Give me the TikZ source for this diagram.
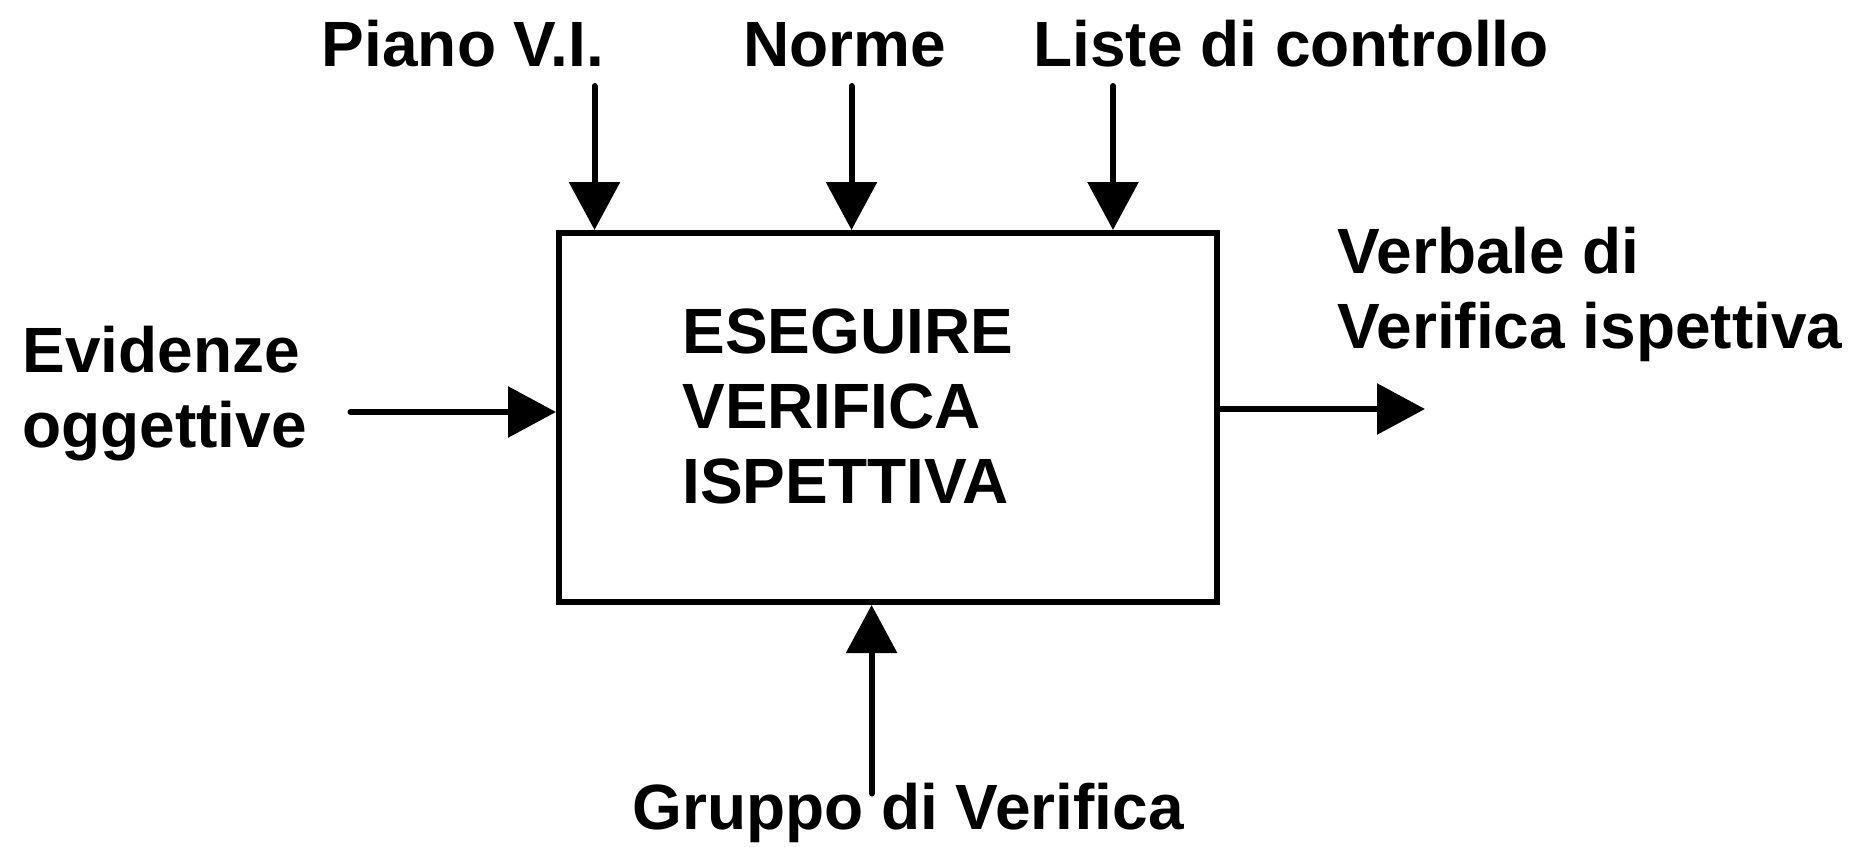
\documentclass[tikz,border=0pt]{standalone}
\usepackage{fontspec}
\setmainfont{Liberation Sans}
\usetikzlibrary{arrows.meta,positioning}
\tikzset{every picture/.style={/utils/exec={\bfseries}}}

\begin{document}
\begin{tikzpicture}[
        x=0.5pt, y=-0.5pt,
        every node/.style={font=\fontsize{32}{37.5}\selectfont\bfseries, inner sep=0pt},
        arr/.style = {line width=3pt, line cap=round,
            -{Triangle[length=24pt,width=25pt]}},
        box/.style = {draw, line width=3pt,
            minimum width=329pt, minimum height=184.5pt},
        lbl/.style = {align=left, anchor=base west},
    ]
    \useasboundingbox (0,0) rectangle (1857,846);
    % activity box
    \node[box] (proc) at (888,417.5) {};
    \node[lbl] (azione) at (682,503) {ESEGUIRE\\VERIFICA\\ISPETTIVA};
    % controls
    \foreach \x/\t/\y [count=\i] in {463/Piano V.I./594.5, 844.5/Norme/851.5, 1291/Liste di controllo/1113}
    {
        \node[anchor=base] (ctrl\i) at (\x,66) {\t};
        \coordinate (c\i) at (\y,86);
        \draw[arr] (c\i) -- (c\i |- proc.north);
    }
    % input
    \node[lbl] (ingr) at (22,447) {Evidenze\\oggettive};
    \coordinate (ev) at (350.5,412);
    \draw[arr] (ev) -- (ev -| proc.west);
    % output
    \node[lbl] (usc) at (1337,348.6) {Verbale di\\Verifica ispettiva};
    \coordinate (out) at (1425,409);
    \draw[arr] (out -| proc.east) -- (out);
    % mechanism
    \node[anchor=base] (mecc) at (908,829) {Gruppo di Verifica};
    \coordinate (gv) at (871.6,793.5);
    \draw[arr] (gv) -- (gv |- proc.south);
\end{tikzpicture}
\end{document}
